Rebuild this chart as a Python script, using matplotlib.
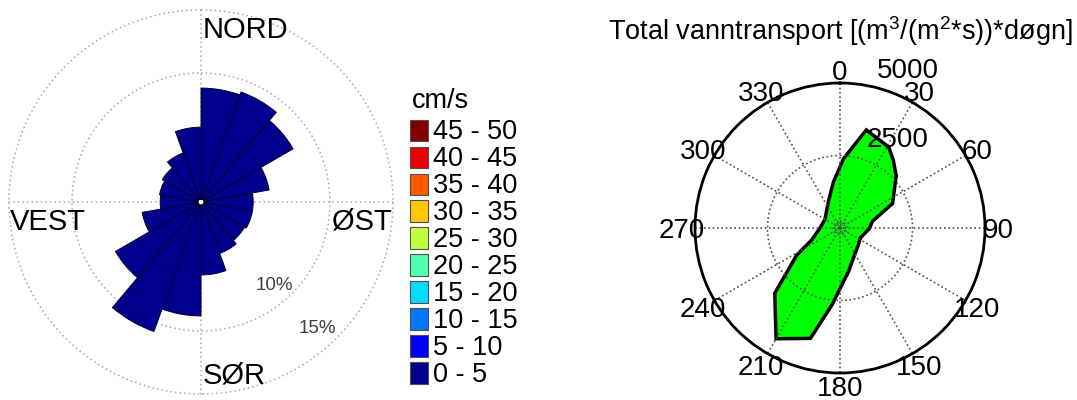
import numpy as np
import matplotlib
matplotlib.use("Agg")
import matplotlib.pyplot as plt
from matplotlib.patches import Rectangle

plt.rcParams['font.family'] = 'Liberation Sans'
plt.rcParams['mathtext.fontset'] = 'custom'
plt.rcParams['mathtext.rm'] = 'Liberation Sans'
plt.rcParams['mathtext.it'] = 'Liberation Sans:italic'

# current rose: share of records (%) per 20 degree sector, sector starts clockwise from north
sector_start = np.arange(0, 360, 20)
sector_share = [8.8, 9.05, 8.2, 5.25, 3.9, 3.9, 3.75, 4.1, 5.55,
                8.8, 10.7, 7.6, 4.5, 3.0, 3.1, 3.3, 3.9, 5.7]
share_rings = [10, 15]

# speed classes (cm/s), lowest first
speed_classes = ["0 - 5", "5 - 10", "10 - 15", "15 - 20", "20 - 25",
                 "25 - 30", "30 - 35", "35 - 40", "40 - 45", "45 - 50"]
speed_colors = ["#00008c", "#0000ff", "#0078ff", "#00dcff", "#50ffb0",
                "#c0ff40", "#ffc800", "#ff5a00", "#e80000", "#800000"]

compass_labels = ["NORD", "ØST", "SØR", "VEST"]

# total water transport per direction
transport_dir = [3, 15, 31, 38, 47, 65, 78, 92, 106, 117, 133, 169, 186,
                 195, 210, 225, 238, 247, 270, 300, 336, 352]
transport_val = [2400, 3500, 3260, 2980, 2650, 2000, 1150, 1000, 840, 780,
                 860, 1530, 2670, 3940, 4410, 3180, 1760, 1060, 690, 600,
                 990, 1610]
dir_ticks = np.arange(0, 360, 30)
transport_rings = [2500, 5000]

W, H = 1077, 400
fig = plt.figure(figsize=(W / 100, H / 100), dpi=100)


def fx(px):
    return px / W


def fy(py):
    return 1 - py / H


# ---- current rose ----
ax1 = fig.add_axes([0.00715, 0.01175, 0.359, 0.9665], projection='polar')
ax1.set_theta_zero_location('N')
ax1.set_theta_direction(-1)
ax1.bar(np.deg2rad(sector_start), sector_share, width=np.deg2rad(20),
        align='edge', color=speed_colors[0], edgecolor='#000030',
        linewidth=0.7, zorder=3)
ax1.set_rorigin(-0.238)
ax1.set_ylim(0, 15.1)
ax1.set_yticks(share_rings)
ax1.set_yticklabels([])
ax1.set_xticks(np.deg2rad([0, 90, 180, 270]))
ax1.set_xticklabels([])
ax1.grid(True, color='#a8a8a8', linestyle=(0, (1, 2)), linewidth=1.1)
ax1.spines['polar'].set_visible(False)

fs_big = 21
fig.text(fx(203), fy(38), compass_labels[0], fontsize=fs_big, va='baseline', ha='left')
fig.text(fx(332), fy(230), compass_labels[1], fontsize=fs_big, va='baseline', ha='left')
fig.text(fx(203), fy(383), compass_labels[2], fontsize=fs_big, va='baseline', ha='left')
fig.text(fx(10), fy(230), compass_labels[3], fontsize=fs_big, va='baseline', ha='left')
fig.text(fx(274), fy(290), "10%", fontsize=13.5, color='#404040', ha='center', va='baseline')
fig.text(fx(317.5), fy(333), "15%", fontsize=13.5, color='#404040', ha='center', va='baseline')

# ---- speed legend ----
axl = fig.add_axes([fx(405), fy(390), fx(130), 310 / H])
axl.set_xlim(0, 130)
axl.set_ylim(-0.63, 10.87)
axl.axis('off')
for i, (lab, col) in enumerate(zip(speed_classes, speed_colors)):
    axl.add_patch(Rectangle((5, i - 0.4), 18, 0.8, facecolor=col,
                            edgecolor='#505050', linewidth=0.8))
    axl.text(28, i - 0.32, lab, fontsize=19.5, va='baseline', ha='left')
axl.text(7, 9.83, "cm/s", fontsize=19.5, va='baseline', ha='left')

# ---- transport polar plot ----
ax2 = fig.add_axes([0.6453, 0.0675, 0.2693, 0.725], projection='polar')
ax2.set_theta_zero_location('N')
ax2.set_theta_direction(-1)
ax2.fill(np.deg2rad(transport_dir), transport_val, facecolor='#00ff00',
         edgecolor='black', linewidth=2.5, zorder=1)
ax2.set_ylim(0, transport_rings[-1])
ax2.set_yticks([110, 230, transport_rings[0]])
ax2.set_yticklabels([])
ax2.set_xticks(np.deg2rad(dir_ticks))
ax2.set_xticklabels([])
ax2.grid(True, color='#505050', linestyle=(0, (1, 1.6)), linewidth=1.2)
ax2.spines['polar'].set_linewidth(2)

for d in dir_ticks:
    ax2.text(np.deg2rad(d), 5460, str(d), fontsize=20,
             ha='center', va='center_baseline')
ax2.text(np.deg2rad(16.6), 3257, str(transport_rings[0]), fontsize=20,
         ha='left', va='center_baseline')
ax2.text(np.deg2rad(13), 5680, str(transport_rings[1]), fontsize=20,
         ha='left', va='center_baseline')

ax2.set_title(r'Total vanntransport [(m$^3$/(m$^2$*s))*døgn]',
              fontsize=19.5, y=1.1466, pad=0)

fig.savefig("out.png", dpi=100)
